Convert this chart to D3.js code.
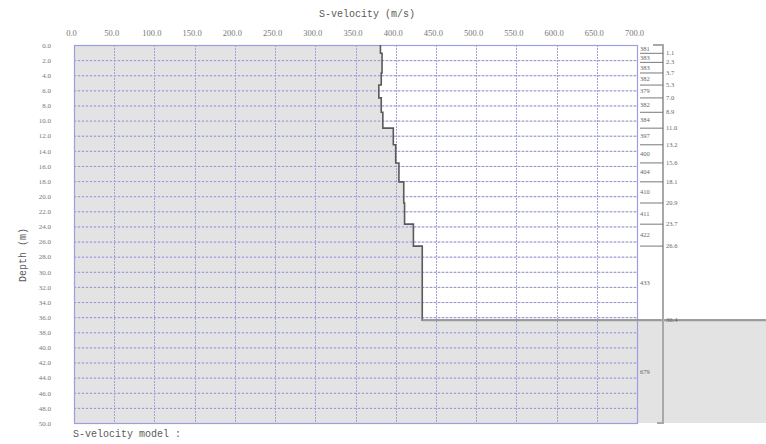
<!DOCTYPE html>
<html>
<head>
<meta charset="utf-8">
<script src="https://cdn.jsdelivr.net/npm/d3@7"></script>
<style>
  html, body { margin: 0; padding: 0; background: #fff; }
  svg { display: block; }
</style>
</head>
<body>
<script>
// Layered shear-wave velocity model: bottom depth (m) and Vs (m/s) of each layer
const layerBottoms = [1.1, 2.3, 3.7, 5.3, 7.0, 8.9, 11.0, 13.2, 15.6, 18.1, 20.9, 23.7, 26.6, 36.4];
const layerVelocities = [381, 383, 383, 382, 379, 382, 384, 397, 400, 404, 410, 411, 422, 433];
const halfSpaceVelocity = 679;

const xTickValues = [0, 50, 100, 150, 200, 250, 300, 350, 400, 450, 500, 550, 600, 650, 700];
const yTickValues = [0, 2, 4, 6, 8, 10, 12, 14, 16, 18, 20, 22, 24, 26, 28, 30, 32, 34, 36, 38, 40, 42, 44, 46, 48, 50];

const W = 766, H = 444;
const plot = { left: 74, right: 637, top: 45, bottom: 423 };
const colRight = 663;

const x = d3.scaleLinear().domain([0, 700]).range([plot.left, plot.right]);
const y = d3.scaleLinear().domain([0, 50]).range([plot.top, plot.bottom]);
const fmt = d3.format(".1f");

const svg = d3.select("body").append("svg").attr("width", W).attr("height", H);

// layer tops
const layerTops = [0].concat(layerBottoms.slice(0, -1));
const maxDepth = layerBottoms[layerBottoms.length - 1];

// velocity profile as a staircase
const profile = [];
layerVelocities.forEach((v, i) => {
  profile.push([x(v), y(layerTops[i])]);
  profile.push([x(v), y(layerBottoms[i])]);
});
profile.push([W, y(maxDepth)]);

// shaded region left of the profile, plus the half-space below it
const shade = [[x(0), y(0)]].concat(profile, [[W, y(50)], [x(0), y(50)]]);
svg.append("path")
  .attr("d", d3.line()(shade) + "Z")
  .attr("fill", "#e3e3e3");

// grid
const grid = svg.append("g");
grid.selectAll("line.h")
  .data(yTickValues.slice(1, -1))
  .join("line")
  .attr("x1", plot.left).attr("x2", plot.right)
  .attr("y1", d => y(d) + 0.5).attr("y2", d => y(d) + 0.5)
  .attr("stroke", "#d4d4ee").attr("stroke-width", 1);
grid.selectAll("line.hd")
  .data(yTickValues.slice(1, -1))
  .join("line")
  .attr("x1", plot.left).attr("x2", plot.right)
  .attr("y1", d => y(d) + 0.5).attr("y2", d => y(d) + 0.5)
  .attr("stroke", "#9494cc").attr("stroke-width", 1)
  .attr("stroke-dasharray", "2,2");
grid.selectAll("line.v")
  .data(xTickValues.slice(1, -1))
  .join("line")
  .attr("x1", d => Math.round(x(d)) + 0.5).attr("x2", d => Math.round(x(d)) + 0.5)
  .attr("y1", plot.top).attr("y2", plot.bottom)
  .attr("stroke", "#a2a2d6").attr("stroke-width", 1)
  .attr("stroke-dasharray", "2,1");

// plot frame
svg.append("rect")
  .attr("x", plot.left + 0.5).attr("y", plot.top + 0.5)
  .attr("width", plot.right - plot.left).attr("height", plot.bottom - plot.top)
  .attr("fill", "none").attr("stroke", "#9d9de0").attr("stroke-width", 1.2);

// profile line
svg.append("path")
  .attr("d", d3.line()(profile))
  .attr("fill", "none")
  .attr("stroke", "#5a5a5a").attr("stroke-width", 1.6);
// half-space boundary
svg.append("line")
  .attr("x1", x(layerVelocities[layerVelocities.length - 1])).attr("x2", W)
  .attr("y1", y(maxDepth)).attr("y2", y(maxDepth))
  .attr("stroke", "#9a9a9a").attr("stroke-width", 2);

// side column: depth bracket
const col = svg.append("g");
col.append("path")
  .attr("d", `M${colRight - 10},${plot.top}H${colRight}V${plot.bottom}H${colRight - 6}`)
  .attr("fill", "none").attr("stroke", "#a8a8a8").attr("stroke-width", 2);
col.selectAll("line.b")
  .data(layerBottoms.slice(0, -1))
  .join("line")
  .attr("x1", plot.right + 3).attr("x2", colRight)
  .attr("y1", d => y(d)).attr("y2", d => y(d))
  .attr("stroke", "#6a6a6a").attr("stroke-width", 0.9);

// depth of each interface
col.selectAll("text.d")
  .data(layerBottoms)
  .join("text")
  .attr("x", colRight + 3).attr("y", d => y(d) + 2)
  .attr("font-family", "Liberation Serif, serif").attr("font-size", 6.5)
  .attr("fill", "#666")
  .text(d => fmt(d));

// velocity of each layer, at mid-layer
const velLabels = layerVelocities.map((v, i) => ({ v, mid: (layerTops[i] + layerBottoms[i]) / 2 }));
velLabels.push({ v: halfSpaceVelocity, mid: (maxDepth + 50) / 2 });
col.selectAll("text.v")
  .data(velLabels)
  .join("text")
  .attr("x", plot.right + 3).attr("y", d => y(d.mid) + 2)
  .attr("font-family", "Liberation Serif, serif").attr("font-size", 6.5)
  .attr("fill", "#666")
  .text(d => d.v);

// axes
const xAxis = svg.append("g")
  .attr("transform", `translate(0,${plot.top - 6})`)
  .call(d3.axisTop(x).tickValues(xTickValues).tickSize(0).tickFormat(fmt));
xAxis.select(".domain").remove();
xAxis.selectAll("text")
  .attr("dx", -3)
  .attr("font-family", "Liberation Serif, serif").attr("font-size", 8.5)
  .attr("fill", "#777");

const yAxis = svg.append("g")
  .attr("transform", `translate(${plot.left},0)`)
  .call(d3.axisLeft(y).tickValues(yTickValues).tickSize(0).tickPadding(23).tickFormat(fmt));
yAxis.select(".domain").remove();
yAxis.selectAll("text")
  .attr("font-family", "Liberation Serif, serif").attr("font-size", 7)
  .attr("fill", "#777");

// titles
svg.append("text")
  .attr("x", 367).attr("y", 17)
  .attr("text-anchor", "middle")
  .attr("font-family", "Liberation Mono, monospace").attr("font-size", 10)
  .attr("fill", "#5a5a5a")
  .text("S-velocity (m/s)");

svg.append("text")
  .attr("transform", "translate(26,255) rotate(-90)")
  .attr("text-anchor", "middle")
  .attr("font-family", "Liberation Mono, monospace").attr("font-size", 10)
  .attr("fill", "#5a5a5a")
  .text("Depth (m)");

svg.append("text")
  .attr("x", 73).attr("y", 437)
  .attr("font-family", "Liberation Mono, monospace").attr("font-size", 10)
  .attr("fill", "#5a5a5a")
  .text("S-velocity model :");
</script>
</body>
</html>
